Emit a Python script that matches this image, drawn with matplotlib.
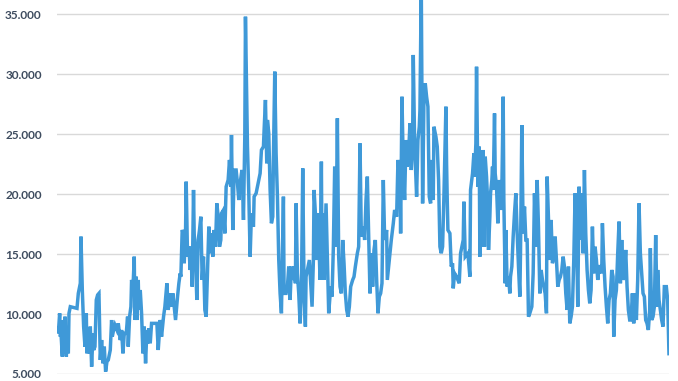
import matplotlib
matplotlib.use("Agg")
import matplotlib.pyplot as plt
from matplotlib.ticker import FuncFormatter

# time index (read positions along the x axis) and values
days = [0, 2, 4, 5, 6, 8, 9, 11, 12, 14, 15, 17, 18, 20, 30, 32, 35, 36, 38, 40,
        42, 44, 45, 47, 49, 50, 52, 54, 55, 57, 59, 61, 63, 65, 67, 69, 71, 73, 75, 77,
        80, 82, 83, 85, 87, 90, 92, 95, 97, 99, 101, 104, 106, 107, 109, 111, 112, 114, 116, 117,
        119, 120, 122, 123, 125, 127, 129, 131, 133, 135, 136, 138, 140, 142, 145, 150, 152, 155, 157, 160,
        162, 165, 167, 170, 172, 174, 176, 178, 181, 183, 185, 186, 188, 190, 191, 193, 194, 196, 198, 200,
        201, 203, 205, 206, 208, 210, 212, 214, 216, 218, 220, 222, 224, 226, 228, 230, 232, 234, 236, 238,
        240, 242, 244, 246, 247, 250, 252, 254, 257, 259,
        261, 262, 264, 266, 269, 271, 273, 275, 277, 278, 280, 282, 283, 286, 288, 290, 292, 295, 296, 299,
        302, 305, 307, 310, 311, 313, 315, 316, 318, 320, 322, 324, 325, 327, 329, 331, 333, 335, 337, 340,
        341, 344, 346, 348, 350, 352, 354, 356, 358, 359, 361, 363, 365, 367, 369, 371, 373, 374, 377, 379,
        381, 383, 385, 386, 388, 390, 392, 394, 395, 397, 398, 400, 401, 404, 406, 408, 411, 413, 415, 417,
        419, 421, 423, 425, 427, 429, 431, 433, 435, 437, 439, 441, 444, 446, 448, 451, 453, 455, 457, 460,
        462, 464, 466, 468, 470, 472, 474, 476, 478, 480, 482, 484, 486, 488, 490, 492, 495, 496, 499, 502,
        505, 507, 510, 512, 515, 516, 518, 520, 522, 524, 526, 528, 530, 532, 534, 535, 537, 540, 542, 544,
        545, 547, 549, 551, 553, 555, 557, 559, 561, 563, 565, 566, 569, 571, 573, 575, 577, 579, 581, 584,
        585, 586, 587, 590, 592, 594, 595, 597, 600, 602, 604, 606, 608, 610, 611, 613, 615, 617, 620, 621,
        624, 626, 627, 629, 630, 632, 634, 635, 637, 639, 640, 642, 643, 645, 647, 648, 650, 651, 653, 654,
        655, 657, 658, 660, 662, 664, 666, 668, 670, 671, 673, 674, 676, 678, 680, 681, 683, 685, 687, 689,
        691, 693, 695, 696, 698, 700, 702, 704, 706, 708, 710, 713, 715, 717, 719, 721, 723, 725, 727, 729,
        731, 733, 735, 736, 738, 740, 742, 744, 746, 748, 750, 752, 754, 756, 758, 760, 762, 764, 766, 768,
        770, 772, 774, 776, 778, 780, 782, 784, 786, 788, 790, 792, 794, 796, 798, 800, 802, 804, 806, 808,
        810, 812, 814, 816, 818, 819, 821, 823, 825, 827, 829, 831, 833, 835, 836, 838, 840, 842, 844, 846,
        848, 850, 852, 854, 856, 858, 860, 862, 864, 866, 868, 870, 872, 874, 876, 878, 880, 882, 884, 886,
        888, 890, 891, 893, 895, 897, 899, 901, 902, 904, 906, 908, 910, 912, 915, 917, 919]

values = [8950, 8390, 10060, 8110, 8390, 6450, 9500, 6720, 9780, 6450, 7830, 6720, 10060, 10610, 10470, 11720, 12560, 16450, 12000, 8950,
          7280, 10060, 6720, 8390, 6720, 8950, 5610, 8390, 7000, 7280, 11170, 11590, 11720, 6170, 7830, 5890, 7280, 5200, 6030, 6170,
          7000, 9500, 8110, 8670, 9080, 8670, 9220, 7830, 8670, 6720, 8390, 8390, 9780, 7280, 9780, 10610, 12840, 12000, 14780, 9500,
          13110, 9500, 12840, 10340, 12000, 10060, 6720, 8950, 5890, 8670, 7560, 8810, 7560, 9220, 9220, 9220, 7000, 9500, 8110, 9780,
          10610, 12560, 10340, 11720, 10610, 11720, 10610, 9500, 11450, 12560, 13390, 13110, 17000, 16720, 14230, 16720, 21030, 14780, 15610, 13670,
          15610, 12280, 20340, 16720, 14500, 11170, 16170, 17000, 18110, 12840, 14780, 10340, 9780, 13390, 17280, 15060, 16720, 14780, 17000, 15610,
          19220, 18110, 15610, 16170, 18390, 18670, 16720, 20610, 21170, 22840,
          20610, 24920, 17000, 22000, 22000, 20890, 19500, 20890, 21720, 22000, 17840, 24780, 34780, 23950, 20060, 14780, 18390, 17280, 19780, 20060,
          20890, 21720, 23670, 23950, 25340, 27840, 22560, 26170, 25060, 20340, 17560, 18110, 23110, 30200, 23390, 19780, 14500, 11720, 10060, 19780,
          11720, 11720, 12280, 13950, 11170, 13950, 12840, 13950, 12560, 19220, 13390, 11720, 9220, 11720, 22140, 12000, 8950, 13110, 13950, 14500,
          12560, 10610, 14500, 20340, 18390, 14500, 18390, 14500, 12840, 22700, 13950, 18390, 12840, 19220, 14500, 10060, 12280, 11450, 15610, 22280,
          15610, 26310, 14780, 12280, 11720, 16170, 14230, 11720, 10340, 9780, 10610, 12280, 12840, 13110, 13950, 15060, 15610, 24220, 16450, 17280,
          16170, 19500, 21450, 16450, 11720, 15060, 12280, 15340, 16170, 12840, 10060, 11450, 11720, 12560, 21170, 16170, 17000, 12840, 14500, 16170,
          17560, 18670, 18110, 22840, 21170, 16720, 28110, 22280, 19500, 24500, 22280, 23390, 25890, 22000, 24500, 31590, 24220, 19780, 24500, 25610,
          27000, 37500, 19220, 27840, 29220, 28110, 27280, 19780, 19220, 22840, 19500, 25610, 24780, 23950, 21170, 15610, 15060, 15610, 19780, 27280,
          22560, 19500, 17000, 16720, 13950, 14230, 12140, 13390, 13110, 12840, 12560, 15060, 15610, 16170, 19360, 14780, 14920, 15060, 13110, 20340,
          21720, 23390, 21450, 24220, 30610, 20610, 23950, 14780, 23390, 15610, 23670, 15610, 23110, 21450, 18950, 15340, 18110, 20060, 21170, 22280,
          20340, 26720, 21720, 20610, 17560, 21170, 18670, 20340, 28110, 19500, 12560, 17000, 12280, 13110, 11720, 13110, 13950, 16450, 18390, 20060,
          16720, 13950, 11450, 15060, 25750, 16720, 18950, 16170, 16170, 9780, 10060, 10610, 13390, 20060, 15610, 21170, 17280, 11720, 13670, 12840,
          12280, 11720, 10060, 21450, 17840, 14500, 17840, 14230, 14780, 16450, 14500, 12280, 12840, 13110, 13670, 14780, 13950, 11720, 10340, 13950,
          9220, 9780, 10610, 14500, 20060, 17000, 10610, 20610, 16170, 20060, 15060, 22000, 16720, 13670, 12000, 10890, 12000, 17280, 13390, 15610,
          14500, 12840, 13950, 13950, 13390, 17560, 14500, 12280, 10610, 9220, 11170, 11720, 13670, 13110, 8110, 11170, 12000, 15060, 17700, 12560,
          16170, 12840, 13390, 15340, 12280, 10340, 9500, 9500, 11720, 9220, 11720, 9500, 12840, 19220, 15060, 13390, 11720, 11450, 9500, 9220,
          8670, 10340, 15480, 9500, 9780, 10610, 16580, 10610, 13670, 11170, 10340, 9500, 8950, 12280, 12280, 11170, 6550]

y_ticks = [5000, 10000, 15000, 20000, 25000, 30000, 35000]
y_min, y_max = 5000, 36170

fig = plt.figure(figsize=(6.78, 3.81), dpi=100)
ax = fig.add_axes([57 / 678, 7 / 381, 612 / 678, 374 / 381])

ax.plot(days, values, color="#3F99D8", linewidth=2.5, solid_joinstyle="miter",
        solid_capstyle="butt", zorder=3)

ax.set_xlim(days[0], days[-1])
ax.set_ylim(y_min, y_max)
ax.set_yticks(y_ticks)
ax.yaxis.set_major_formatter(FuncFormatter(lambda v, p: f"{int(v):,}".replace(",", ".")))
ax.set_xticks([])
ax.grid(axis="y", color="#D9D9D9", linewidth=1.0, zorder=0)
for s in ax.spines.values():
    s.set_visible(False)
ax.tick_params(axis="y", length=0, pad=11, labelsize=8.5, labelcolor="#3E4C5F")
for lab in ax.get_yticklabels():
    lab.set_fontfamily("Lato")
    lab.set_fontweight("bold")

fig.savefig("out.png", dpi=100)
